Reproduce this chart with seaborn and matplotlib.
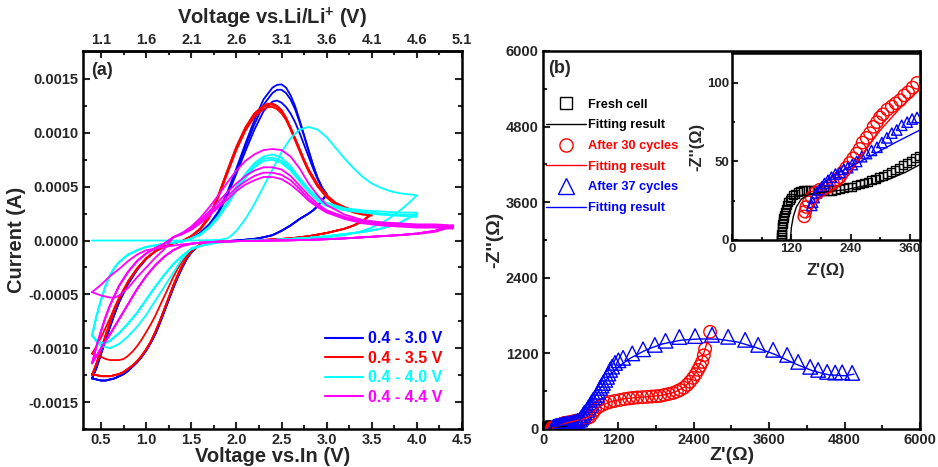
import numpy as np
import matplotlib
matplotlib.use('Agg')
import matplotlib.pyplot as plt
import seaborn as sns
from matplotlib.ticker import MultipleLocator, FormatStrFormatter, FixedLocator
from matplotlib.lines import Line2D

sns.set_style('ticks')
plt.rcParams['font.family'] = ['Liberation Sans', 'DejaVu Sans']
plt.rcParams['font.weight'] = 'bold'
plt.rcParams['axes.unicode_minus'] = False
plt.rcParams['mathtext.fontset'] = 'custom'
plt.rcParams['mathtext.bf'] = 'Liberation Sans:bold'
plt.rcParams['mathtext.rm'] = 'Liberation Sans:bold'

# ---------------- (a) Cyclic voltammetry data (current in mA) ----------------
# 0.4 - 3.0 V (blue)
blue_low_v = [0.40, 0.45, 0.50, 0.55, 0.60, 0.65, 0.70, 0.80, 0.90, 1.00, 1.10, 1.20, 1.30, 1.40, 1.50, 1.60, 1.70]
blue_low_i = [-1.28, -1.18, -1.05, -0.92, -0.80, -0.68, -0.57, -0.40, -0.27, -0.17, -0.10, -0.055, -0.025, -0.005, 0.02, 0.07, 0.15]
blue_peak_v = [1.80, 1.90, 2.00, 2.10, 2.20, 2.30, 2.40, 2.45, 2.50, 2.55, 2.60, 2.65, 2.70, 2.75, 2.80, 2.85, 2.90, 2.95, 3.00]
blue_peak_i1 = [0.27, 0.45, 0.67, 0.90, 1.12, 1.31, 1.42, 1.445, 1.45, 1.42, 1.35, 1.25, 1.12, 0.98, 0.84, 0.70, 0.58, 0.49, 0.43]
blue_peak_i2 = [0.26, 0.44, 0.65, 0.87, 1.08, 1.26, 1.37, 1.40, 1.40, 1.37, 1.31, 1.22, 1.10, 0.97, 0.83, 0.70, 0.58, 0.49, 0.43]
blue_peak_i3 = [0.25, 0.42, 0.62, 0.83, 1.03, 1.20, 1.29, 1.30, 1.28, 1.24, 1.18, 1.10, 1.00, 0.89, 0.78, 0.67, 0.57, 0.49, 0.43]
blue_cath_v = [3.00, 2.95, 2.90, 2.85, 2.80, 2.70, 2.60, 2.50, 2.40, 2.30, 2.20, 2.00, 1.80, 1.70, 1.60, 1.55, 1.50, 1.45,
               1.40, 1.35, 1.30, 1.25, 1.20, 1.15, 1.10, 1.05, 1.00, 0.95, 0.90, 0.85, 0.80, 0.75, 0.70, 0.65, 0.60,
               0.55, 0.50, 0.45, 0.40]
blue_cath_i = [0.43, 0.37, 0.32, 0.28, 0.25, 0.20, 0.14, 0.09, 0.05, 0.03, 0.015, 0.0, -0.01, -0.02, -0.04, -0.07, -0.11,
               -0.17, -0.25, -0.34, -0.44, -0.55, -0.66, -0.77, -0.87, -0.95, -1.02, -1.08, -1.13, -1.17, -1.21, -1.24,
               -1.26, -1.28, -1.29, -1.30, -1.30, -1.29, -1.28]

# 0.4 - 3.5 V (red)
red_low_v = [0.40, 0.45, 0.50, 0.55, 0.60, 0.65, 0.70, 0.80, 0.90, 1.00, 1.10, 1.20, 1.30, 1.40]
red_low_i = [-1.25, -1.14, -1.01, -0.88, -0.76, -0.64, -0.54, -0.38, -0.26, -0.165, -0.10, -0.055, -0.025, -0.005]
red_low_i0 = [-1.05, -0.98, -0.90, -0.81, -0.72, -0.62, -0.53, -0.38, -0.26, -0.165, -0.10, -0.055, -0.025, -0.005]
red_peak_v = [1.50, 1.60, 1.70, 1.80, 1.90, 2.00, 2.10, 2.20, 2.30, 2.35, 2.40, 2.45, 2.50, 2.55, 2.60, 2.65, 2.70,
              2.75, 2.80, 2.90, 3.00, 3.10, 3.20, 3.30, 3.40, 3.50]
red_peak_i1 = [0.04, 0.11, 0.23, 0.42, 0.65, 0.87, 1.05, 1.18, 1.25, 1.27, 1.27, 1.25, 1.21, 1.14, 1.05, 0.95, 0.85,
               0.75, 0.66, 0.52, 0.42, 0.35, 0.31, 0.28, 0.26, 0.25]
red_peak_i2 = [0.04, 0.11, 0.22, 0.41, 0.64, 0.86, 1.04, 1.17, 1.24, 1.26, 1.26, 1.24, 1.20, 1.13, 1.04, 0.94, 0.84,
               0.74, 0.65, 0.51, 0.41, 0.34, 0.30, 0.27, 0.25, 0.24]
red_peak_i3 = [0.04, 0.10, 0.21, 0.40, 0.62, 0.84, 1.02, 1.15, 1.22, 1.24, 1.24, 1.22, 1.18, 1.12, 1.03, 0.93, 0.83,
               0.73, 0.64, 0.50, 0.40, 0.33, 0.29, 0.26, 0.24, 0.23]
red_cath_v = [3.50, 3.40, 3.30, 3.20, 3.10, 3.00, 2.80, 2.60, 2.40, 2.20, 2.00, 1.80, 1.70, 1.60, 1.55, 1.50, 1.45,
              1.40, 1.35, 1.30, 1.25, 1.20, 1.15, 1.10, 1.05, 1.00, 0.95, 0.90, 0.85, 0.80, 0.75, 0.70, 0.65, 0.60,
              0.55, 0.50, 0.45, 0.40]
red_cath_i = [0.25, 0.18, 0.14, 0.11, 0.09, 0.07, 0.04, 0.02, 0.01, 0.0, -0.005, -0.01, -0.02, -0.04, -0.065, -0.10,
              -0.155, -0.23, -0.32, -0.42, -0.53, -0.64, -0.75, -0.85, -0.94, -1.01, -1.07, -1.12, -1.16, -1.19,
              -1.22, -1.24, -1.25, -1.26, -1.26, -1.26, -1.25, -1.24]
red_cath_i0 = [0.25, 0.18, 0.14, 0.11, 0.09, 0.07, 0.04, 0.02, 0.01, 0.0, -0.005, -0.01, -0.02, -0.04, -0.06, -0.09,
               -0.13, -0.19, -0.26, -0.34, -0.43, -0.52, -0.61, -0.70, -0.78, -0.85, -0.92, -0.98, -1.03, -1.07,
               -1.10, -1.11, -1.11, -1.11, -1.10, -1.08, -1.07, -1.05]

# 0.4 - 4.0 V (cyan)
cyan_first_v = [0.40, 1.00, 1.50, 1.80, 1.90, 1.95, 2.00, 2.10, 2.20, 2.30, 2.40, 2.50, 2.60, 2.70, 2.80, 2.90, 3.00,
                3.10, 3.20, 3.30, 3.40, 3.50, 3.60, 3.70, 3.80, 3.90, 4.00]
cyan_first_i = [0.0, 0.0, 0.0, 0.005, 0.02, 0.05, 0.09, 0.20, 0.34, 0.50, 0.66, 0.82, 0.95, 1.03, 1.055, 1.03, 0.96,
                0.86, 0.76, 0.67, 0.59, 0.53, 0.49, 0.46, 0.44, 0.43, 0.42]
cyan_cath1_v = [4.00, 3.90, 3.80, 3.70, 3.60, 3.50, 3.40, 3.30, 3.20, 3.00, 2.80, 2.60, 2.40, 2.20, 2.00, 1.80, 1.70,
                1.60, 1.50, 1.40, 1.30, 1.20, 1.10, 1.00, 0.90, 0.80, 0.70, 0.60, 0.50, 0.45, 0.40]
cyan_cath1_i = [0.42, 0.34, 0.27, 0.21, 0.16, 0.12, 0.09, 0.07, 0.05, 0.03, 0.02, 0.01, 0.005, 0.0, -0.005, -0.02,
                -0.035, -0.05, -0.07, -0.17, -0.30, -0.43, -0.56, -0.69, -0.80, -0.89, -0.96, -1.00, -0.98, -0.94, -0.88]
cyan_low_v = [0.40, 0.45, 0.50, 0.55, 0.60, 0.65, 0.70, 0.80, 0.90, 1.00, 1.20, 1.40]
cyan_low_i = [-0.88, -0.70, -0.55, -0.42, -0.32, -0.25, -0.20, -0.13, -0.09, -0.06, -0.03, -0.01]
cyan_peak_v = [1.50, 1.60, 1.70, 1.80, 1.90, 2.00, 2.10, 2.20, 2.30, 2.40, 2.50, 2.60, 2.70, 2.80, 2.90, 3.00, 3.20,
               3.40, 3.60, 3.80, 4.00]
cyan_peak_i2 = [0.02, 0.06, 0.13, 0.23, 0.36, 0.50, 0.62, 0.72, 0.78, 0.80, 0.77, 0.69, 0.58, 0.48, 0.40, 0.35, 0.30,
                0.28, 0.27, 0.26, 0.26]
cyan_peak_i3 = [0.02, 0.06, 0.12, 0.22, 0.35, 0.48, 0.60, 0.70, 0.76, 0.77, 0.74, 0.67, 0.56, 0.46, 0.38, 0.33, 0.29,
                0.27, 0.25, 0.24, 0.24]
cyan_peak_i4 = [0.02, 0.05, 0.12, 0.21, 0.33, 0.46, 0.58, 0.68, 0.74, 0.75, 0.72, 0.65, 0.55, 0.45, 0.37, 0.32, 0.28,
                0.26, 0.24, 0.23, 0.22]
cyan_cath_v = [4.00, 3.80, 3.60, 3.40, 3.20, 3.00, 2.80, 2.60, 2.40, 2.20, 2.00, 1.80, 1.70, 1.60, 1.50, 1.40, 1.30,
               1.20, 1.10, 1.00, 0.90, 0.80, 0.70, 0.60, 0.55, 0.50, 0.45, 0.40]
cyan_cath_i = [0.25, 0.16, 0.11, 0.08, 0.06, 0.04, 0.025, 0.015, 0.005, 0.0, -0.005, -0.015, -0.03, -0.05, -0.08,
               -0.14, -0.22, -0.32, -0.43, -0.55, -0.67, -0.77, -0.86, -0.93, -0.95, -0.95, -0.93, -0.88]

# 0.4 - 4.4 V (magenta)
mag_low_v = [0.40, 0.45, 0.50, 0.55, 0.60, 0.70, 0.80, 0.90, 1.00, 1.10, 1.20]
mag_low_i = [-1.14, -0.98, -0.84, -0.71, -0.60, -0.42, -0.29, -0.19, -0.12, -0.07, -0.03]
mag_loop_low_v = [0.40, 0.50, 0.60, 0.65, 0.70, 0.80, 0.90, 1.00, 1.10, 1.20]
mag_loop_low_i = [-0.48, -0.51, -0.53, -0.53, -0.51, -0.44, -0.34, -0.25, -0.16, -0.08]
mag_peak_v = [1.30, 1.40, 1.50, 1.60, 1.70, 1.80, 1.90, 2.00, 2.10, 2.20, 2.30, 2.40, 2.50, 2.60, 2.70, 2.80, 2.90,
              3.00, 3.20, 3.40, 3.60, 3.80, 4.00, 4.20, 4.40]
mag_peak_i1 = [0.03, 0.07, 0.13, 0.21, 0.31, 0.42, 0.54, 0.65, 0.74, 0.80, 0.84, 0.85, 0.84, 0.78, 0.67, 0.53, 0.42,
               0.33, 0.24, 0.19, 0.17, 0.16, 0.15, 0.15, 0.14]
mag_peak_i2 = [0.03, 0.07, 0.12, 0.19, 0.27, 0.36, 0.45, 0.53, 0.60, 0.65, 0.68, 0.68, 0.66, 0.60, 0.51, 0.42, 0.34,
               0.28, 0.22, 0.18, 0.16, 0.15, 0.14, 0.14, 0.13]
mag_peak_i3 = [0.03, 0.06, 0.11, 0.17, 0.25, 0.33, 0.41, 0.49, 0.55, 0.60, 0.63, 0.63, 0.61, 0.56, 0.48, 0.39, 0.32,
               0.27, 0.21, 0.17, 0.15, 0.14, 0.13, 0.13, 0.12]
mag_peak_i4 = [0.03, 0.06, 0.10, 0.16, 0.23, 0.31, 0.38, 0.46, 0.52, 0.56, 0.59, 0.59, 0.57, 0.52, 0.45, 0.37, 0.31,
               0.26, 0.20, 0.16, 0.14, 0.13, 0.12, 0.12, 0.11]
mag_cath_v = [4.40, 4.20, 4.00, 3.80, 3.60, 3.40, 3.20, 3.00, 2.80, 2.60, 2.40, 2.20, 2.00, 1.80, 1.60, 1.50, 1.40,
              1.30, 1.20, 1.10, 1.00, 0.90, 0.80, 0.70, 0.60, 0.50, 0.45, 0.40]
mag_cath_i = [0.14, 0.09, 0.065, 0.05, 0.04, 0.03, 0.02, 0.012, 0.006, 0.002, 0.0, -0.003, -0.006, -0.01, -0.02,
              -0.03, -0.05, -0.09, -0.15, -0.23, -0.33, -0.45, -0.59, -0.73, -0.87, -1.00, -1.07, -1.14]
mag_loop_cath_v = [4.40, 4.20, 4.00, 3.60, 3.20, 2.80, 2.40, 2.00, 1.60, 1.40, 1.20, 1.00, 0.90, 0.80, 0.72, 0.60,
                   0.50, 0.40]
mag_loop_cath_i = [0.13, 0.08, 0.06, 0.04, 0.02, 0.006, 0.0, -0.006, -0.02, -0.035, -0.06, -0.09, -0.13, -0.19,
                   -0.25, -0.33, -0.41, -0.48]

# ---------------- (b) Impedance data (ohm) ----------------
fresh_re = [100, 100, 100, 101, 101, 102, 103, 104, 105, 107, 109, 111, 114, 117, 120, 124, 128, 133, 138, 144, 150,
            157, 164, 171, 178, 186, 194, 202, 210, 218, 226, 234, 242, 250, 258, 266, 274, 282, 290, 298, 306, 314,
            322, 330, 338, 346, 354, 362, 370, 378]
fresh_im = [0, 2, 4, 6, 8, 10, 12, 14, 16, 18, 20, 22, 24, 25.5, 27, 28.5, 29.5, 30.5, 31, 31.5, 32, 32, 32, 32, 32,
            31.5, 31.5, 31.5, 32, 32.5, 33, 33.5, 34, 35, 35.5, 36, 37, 38, 39, 40, 41, 42, 43, 44.5, 46, 47.5, 49,
            50.5, 52, 53.5]
fresh_fit_re = [118, 120, 124, 130, 140, 155, 175, 200, 230, 260, 290, 320, 350, 380]
fresh_fit_im = [0, 8, 15, 21, 26, 29, 30, 31, 32, 34, 36, 39, 43, 48]

c30_re = [146, 148, 150, 155, 161, 168, 177, 187, 197, 204, 211, 218, 224, 231, 238, 245, 252, 258, 264, 272, 279,
          286, 293, 299, 305, 314, 323, 331, 340, 348, 356, 365, 374, 420, 470, 520, 570, 620, 670, 710, 748, 790,
          828, 880, 940, 1000, 1067, 1140, 1226, 1300, 1370, 1433, 1500, 1580, 1656, 1730, 1800, 1863, 1930, 2000,
          2070, 2130, 2182, 2240, 2293, 2340, 2389, 2430, 2468, 2500, 2532, 2560, 2580, 2659]
c30_im = [15, 18, 21, 24, 27, 30, 32, 33, 34, 36, 38, 40, 43, 46, 49, 52, 55, 58, 62, 65, 68, 72, 75, 78, 80, 83, 85,
          87, 89, 92, 94, 97, 100, 108, 118, 128, 138, 150, 165, 175, 191, 250, 302, 350, 381, 408, 429, 445, 461,
          475, 485, 493, 500, 505, 509, 515, 520, 525, 540, 555, 572, 595, 620, 655, 700, 750, 811, 870, 938, 1000,
          1065, 1170, 1272, 1542]
c30_fit_re = [150, 160, 175, 195, 225, 260, 300, 340, 380, 450, 550, 650, 750, 850, 950, 1100, 1300, 1500, 1700,
              1900, 2100, 2250, 2350, 2450, 2520, 2580, 2620]
c30_fit_im = [14, 20, 26, 30, 37, 53, 70, 84, 96, 114, 138, 162, 200, 320, 385, 440, 480, 500, 515, 535, 585, 665,
              770, 930, 1080, 1270, 1400]

c37_re = [161, 163, 166, 171, 177, 182, 187, 194, 201, 209, 218, 226, 234, 243, 252, 262, 272, 282, 293, 303, 313,
          323, 333, 343, 354, 364, 374, 400, 430, 460, 490, 520, 550, 590, 610, 637, 660, 700, 720, 748, 770, 796,
          830, 860, 880, 908, 930, 955, 990, 1019, 1040, 1067, 1100, 1146, 1200, 1274, 1420, 1592, 1780, 1950,
          2170, 2420, 2690, 2946, 3217, 3424, 3662, 3885, 4061, 4252, 4379, 4522, 4650, 4761, 4920]
c37_im = [22, 24, 27, 30, 32, 34, 36, 38, 40, 42, 43, 45, 46, 48, 50, 53, 55, 57, 59, 62, 65, 68, 70, 73, 75, 77, 78,
          85, 92, 100, 108, 118, 130, 150, 180, 222, 260, 302, 340, 381, 420, 461, 500, 540, 590, 652, 690, 731,
          780, 827, 880, 938, 990, 1049, 1090, 1129, 1200, 1265, 1335, 1400, 1460, 1475, 1494, 1463, 1415, 1335,
          1256, 1176, 1065, 986, 938, 906, 895, 900, 890]
c37_fit_re = [166, 180, 210, 260, 330, 380, 480, 560, 620, 680, 740, 800, 870, 950, 1050, 1200, 1400, 1650, 1900,
              2200, 2500, 2800, 3100, 3400, 3700, 4000, 4300, 4550, 4800, 4950]
c37_fit_im = [29, 35, 42, 50, 62, 70, 90, 110, 180, 270, 370, 470, 580, 700, 840, 990, 1130, 1260, 1350, 1410, 1430,
              1425, 1380, 1290, 1180, 1040, 920, 860, 845, 870]

cv_labels = ['0.4 - 3.0 V', '0.4 - 3.5 V', '0.4 - 4.0 V', '0.4 - 4.4 V']
cv_colors = ['#0000FF', '#FF0000', '#00FFFF', '#FF00FF']
eis_labels = ['Fresh cell', 'Fitting result', 'After 30 cycles', 'Fitting result', 'After 37 cycles', 'Fitting result']
eis_colors = ['black', 'black', '#FF0000', '#FF0000', '#0000FF', '#0000FF']

# ---------------- figure ----------------
fig = plt.figure(figsize=(9.38, 4.67), dpi=100)
axA = fig.add_axes([0.0885, 0.0814, 0.404, 0.8094])
axB = fig.add_axes([0.5789, 0.0814, 0.4019, 0.8094])
axI = fig.add_axes([0.7804, 0.4861, 0.2004, 0.4004])

LW = 1.3


def cv(ax, v, i, color):
    sns.lineplot(x=v, y=np.array(i) * 1e-3, sort=False, estimator=None, color=color, lw=LW, ax=ax)


# blue
for pk in (blue_peak_i1, blue_peak_i2, blue_peak_i3):
    cv(axA, blue_low_v + blue_peak_v + blue_cath_v, blue_low_i + pk + blue_cath_i, cv_colors[0])
# red
cv(axA, red_low_v + red_peak_v + red_cath_v, red_low_i0 + red_peak_i1 + red_cath_i0, cv_colors[1])
for pk in (red_peak_i1, red_peak_i2, red_peak_i3):
    cv(axA, red_low_v + red_peak_v + red_cath_v, red_low_i + pk + red_cath_i, cv_colors[1])
# cyan
cv(axA, cyan_first_v + cyan_cath1_v, cyan_first_i + cyan_cath1_i, cv_colors[2])
for pk in (cyan_peak_i2, cyan_peak_i3, cyan_peak_i4):
    cv(axA, cyan_low_v + cyan_peak_v + cyan_cath_v, cyan_low_i + pk + cyan_cath_i, cv_colors[2])
# magenta
cv(axA, mag_loop_low_v + mag_peak_v + mag_loop_cath_v, mag_loop_low_i + mag_peak_i1 + mag_loop_cath_i, cv_colors[3])
for pk in (mag_peak_i2, mag_peak_i3, mag_peak_i4):
    cv(axA, mag_low_v + mag_peak_v + mag_cath_v, mag_low_i + pk + mag_cath_i, cv_colors[3])

axA.set_xlim(0.3, 4.5)
axA.set_ylim(-0.00175, 0.00176)
axA.xaxis.set_major_locator(MultipleLocator(0.5))
axA.xaxis.set_minor_locator(MultipleLocator(0.25))
axA.xaxis.set_major_formatter(FormatStrFormatter('%.1f'))
axA.yaxis.set_major_locator(MultipleLocator(0.0005))
axA.yaxis.set_minor_locator(MultipleLocator(0.00025))
axA.yaxis.set_major_formatter(FormatStrFormatter('%.4f'))
axA.tick_params(which='both', direction='in', top=False, right=True, width=1.5, labelsize=10.5, pad=3)
axA.tick_params(which='major', length=5)
axA.tick_params(which='minor', length=3)
axA.set_xlabel('Voltage vs.In (V)', fontsize=14.5, fontweight='bold', labelpad=0)
axA.set_ylabel('Current (A)', fontsize=14.5, fontweight='bold', labelpad=2)

sec = axA.secondary_xaxis('top', functions=(lambda x: x + 0.6, lambda x: x - 0.6))
sec.xaxis.set_major_locator(FixedLocator([1.1, 1.6, 2.1, 2.6, 3.1, 3.6, 4.1, 4.6, 5.1]))
sec.xaxis.set_minor_locator(FixedLocator([0.85, 1.35, 1.85, 2.35, 2.85, 3.35, 3.85, 4.35, 4.85]))
sec.xaxis.set_major_formatter(FormatStrFormatter('%.1f'))
sec.tick_params(which='both', direction='in', width=1.5, labelsize=10.5, pad=3)
sec.tick_params(which='major', length=5)
sec.tick_params(which='minor', length=3)
sec.set_xlabel(r'Voltage vs.Li/Li$^{\mathbf{+}}$ (V)', fontsize=14.5, fontweight='bold', labelpad=6)
for sp in sec.spines.values():
    sp.set_linewidth(1.8)

axA.text(0.022, 0.972, '(a)', transform=axA.transAxes, fontsize=13, fontweight='bold', va='top', ha='left')
hA = [Line2D([], [], color=c, lw=1.5) for c in cv_colors]
axA.legend(hA, cv_labels, loc='upper left', bbox_to_anchor=(0.638, 0.258), frameon=False,
           handlelength=2.4, handletextpad=0.3, labelspacing=0.28,
           borderpad=0, borderaxespad=0, labelcolor=cv_colors, prop={'weight': 'bold', 'size': 11.5})

# ---------------- (b) ----------------
for ax, big in ((axB, True), (axI, False)):
    s_sq = 72 if big else 34
    s_ci = 81 if big else 78
    s_tr = 110 if big else 56
    sns.scatterplot(x=fresh_re, y=fresh_im, marker='s', s=s_sq, facecolor='none', edgecolor='black',
                    linewidth=1.0, ax=ax, zorder=3)
    sns.lineplot(x=fresh_fit_re, y=fresh_fit_im, sort=False, estimator=None, color='black', lw=1.0, ax=ax, zorder=4)
    sns.scatterplot(x=c30_re, y=c30_im, marker='o', s=s_ci, facecolor='none', edgecolor='#FF0000',
                    linewidth=1.0, ax=ax, zorder=3)
    sns.lineplot(x=c30_fit_re, y=c30_fit_im, sort=False, estimator=None, color='#FF0000', lw=1.0, ax=ax, zorder=4)
    sns.scatterplot(x=c37_re, y=c37_im, marker='^', s=s_tr, facecolor='none', edgecolor='#0000FF',
                    linewidth=1.0, ax=ax, zorder=3)
    sns.lineplot(x=c37_fit_re, y=c37_fit_im, sort=False, estimator=None, color='#0000FF', lw=1.0, ax=ax, zorder=4)

axB.set_xlim(0, 6000)
axB.set_ylim(0, 6000)
axB.xaxis.set_major_locator(MultipleLocator(1200))
axB.xaxis.set_minor_locator(MultipleLocator(600))
axB.yaxis.set_major_locator(MultipleLocator(1200))
axB.yaxis.set_minor_locator(MultipleLocator(600))
axB.tick_params(which='both', direction='in', top=False, right=False, width=1.5, labelsize=10.5, pad=3)
axB.tick_params(which='major', length=5)
axB.tick_params(which='minor', length=3)
axB.set_xlabel("Z'(Ω)", fontsize=14, fontweight='bold', labelpad=0)
axB.set_ylabel("-Z''(Ω)", fontsize=14, fontweight='bold', labelpad=2)
axB.text(0.013, 0.975, '(b)', transform=axB.transAxes, fontsize=13, fontweight='bold', va='top', ha='left')
hB = [Line2D([], [], marker='s', ms=8.5, mfc='none', mec='black', mew=1.0, ls=''),
      Line2D([], [], color='black', lw=1.0),
      Line2D([], [], marker='o', ms=9.5, mfc='none', mec='#FF0000', mew=1.0, ls=''),
      Line2D([], [], color='#FF0000', lw=1.0),
      Line2D([], [], marker='^', ms=11, mfc='none', mec='#0000FF', mew=1.0, ls=''),
      Line2D([], [], color='#0000FF', lw=1.0)]
axB.legend(hB, eis_labels, loc='upper left', bbox_to_anchor=(0.008, 0.874), frameon=False,
           handlelength=3.1, handletextpad=0.2, labelspacing=0.68, borderpad=0, borderaxespad=0,
           labelcolor=eis_colors, prop={'weight': 'bold', 'size': 9.2})

axI.set_xlim(0, 380)
axI.set_ylim(0, 119)
axI.xaxis.set_major_locator(MultipleLocator(120))
axI.xaxis.set_minor_locator(MultipleLocator(60))
axI.yaxis.set_major_locator(MultipleLocator(50))
axI.yaxis.set_minor_locator(MultipleLocator(25))
axI.tick_params(which='both', direction='in', top=False, right=False, width=1.5, labelsize=9.5, pad=2)
axI.tick_params(which='major', length=4)
axI.tick_params(which='minor', length=2.5)
axI.set_xlabel("Z'(Ω)", fontsize=12, fontweight='bold', labelpad=6)
axI.set_ylabel("-Z''(Ω)", fontsize=12, fontweight='bold', labelpad=2)

for ax in (axA, axB, axI):
    for sp in ax.spines.values():
        sp.set_linewidth(1.8)
        sp.set_visible(True)
        sp.set_color('black')

fig.savefig('out.png', dpi=100)
